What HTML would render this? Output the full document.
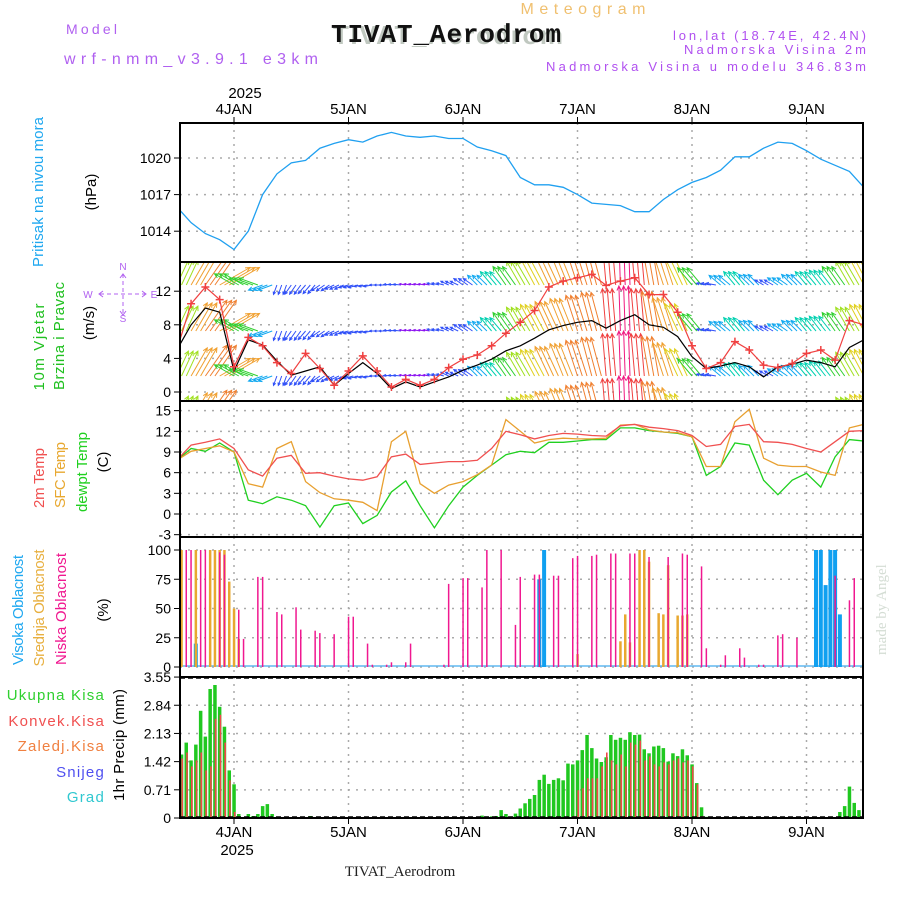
<!DOCTYPE html>
<html><head><meta charset="utf-8"><style>
html,body{margin:0;padding:0;background:#fff;}
svg{display:block;}
text{font-family:"Liberation Sans",sans-serif;}
</style></head><body>
<svg id="chart" width="900" height="900" viewBox="0 0 900 900" xmlns="http://www.w3.org/2000/svg">
<defs>
<clipPath id="c1"><rect x="180" y="123" width="683" height="139"/></clipPath>
<clipPath id="c2"><rect x="181" y="263" width="681" height="137"/></clipPath>
<clipPath id="c3"><rect x="180" y="401" width="683" height="136"/></clipPath>
<clipPath id="c4"><rect x="180" y="537" width="683" height="140"/></clipPath>
<clipPath id="c5"><rect x="180" y="677" width="683" height="141"/></clipPath>
</defs>
<!-- header -->
<text x="583" y="14" fill="#f0c070" font-size="16" text-anchor="middle" textLength="125" lengthAdjust="spacing">Meteogram</text>
<text x="66" y="34" fill="#b060f0" font-size="14" textLength="51" lengthAdjust="spacing">Model</text>
<text x="64" y="64" fill="#b060f0" font-size="16" textLength="254" lengthAdjust="spacing">wrf-nmm_v3.9.1 e3km</text>
<text x="333" y="44" fill="#c0c8c0" font-size="26" font-weight="bold" font-family="Liberation Mono" textLength="230">TIVAT_Aerodrom</text>
<text x="331" y="42" fill="#111" font-size="26" font-weight="bold" font-family="Liberation Mono" textLength="230" style="font-family:'Liberation Mono',monospace">TIVAT_Aerodrom</text>
<text x="673" y="40" fill="#b050f0" font-size="13" textLength="193" lengthAdjust="spacing">lon,lat (18.74E, 42.4N)</text>
<text x="684" y="54" fill="#b050f0" font-size="13" textLength="182" lengthAdjust="spacing">Nadmorska Visina 2m</text>
<text x="546" y="71" fill="#b050f0" font-size="13" textLength="320" lengthAdjust="spacing">Nadmorska Visina u modelu 346.83m</text>
<text x="400" y="876" fill="#222" font-size="15" text-anchor="middle" font-family="Liberation Serif" style="font-family:'Liberation Serif',serif">TIVAT_Aerodrom</text>
<text transform="translate(886,655) rotate(-90)" fill="#d4ddd4" font-size="15" font-family="Liberation Serif" style="font-family:'Liberation Serif',serif">made by Angel</text>

<!-- left labels -->
<g font-size="15">
<text transform="translate(43,192) rotate(-90)" fill="#20a8f0" text-anchor="middle" textLength="150">Pritisak na nivou mora</text>
<text transform="translate(96,192) rotate(-90)" fill="#000" text-anchor="middle">(hPa)</text>
<text transform="translate(44,347) rotate(-90)" fill="#20c020" text-anchor="middle" textLength="87">10m Vjetar</text>
<text transform="translate(64,336) rotate(-90)" fill="#20c020" text-anchor="middle" textLength="108">Brzina i Pravac</text>
<text transform="translate(94,323) rotate(-90)" fill="#000" text-anchor="middle">(m/s)</text>
<text transform="translate(44,478) rotate(-90)" fill="#f05050" text-anchor="middle" textLength="60">2m Temp</text>
<text transform="translate(65,475) rotate(-90)" fill="#e8a830" text-anchor="middle" textLength="66">SFC Temp</text>
<text transform="translate(87,472) rotate(-90)" fill="#20d020" text-anchor="middle" textLength="80">dewpt Temp</text>
<text transform="translate(108,462) rotate(-90)" fill="#000" text-anchor="middle">(C)</text>
<text transform="translate(23,610) rotate(-90)" fill="#20a8f0" text-anchor="middle" textLength="110">Visoka Oblacnost</text>
<text transform="translate(44,608) rotate(-90)" fill="#e8b040" text-anchor="middle" textLength="117">Srednja Oblacnost</text>
<text transform="translate(66,609) rotate(-90)" fill="#f01890" text-anchor="middle" textLength="112">Niska Oblacnost</text>
<text transform="translate(108,610) rotate(-90)" fill="#000" text-anchor="middle">(%)</text>
<text transform="translate(124,745) rotate(-90)" fill="#000" text-anchor="middle" textLength="112">1hr Precip (mm)</text>
</g>
<g font-size="15" text-anchor="end" letter-spacing="1.2">
<text x="105" y="700" fill="#30d030">Ukupna Kisa</text>
<text x="105" y="726" fill="#f05050">Konvek.Kisa</text>
<text x="105" y="751" fill="#f08040">Zaledj.Kisa</text>
<text x="105" y="777" fill="#5050f0">Snijeg</text>
<text x="105" y="802" fill="#30c8d0">Grad</text>
</g>
<!-- compass -->
<g fill="#b060f0" stroke="#b060f0" font-size="10">
<text x="123" y="270" text-anchor="middle" stroke="none">N</text>
<text x="123" y="322" text-anchor="middle" stroke="none">S</text>
<text x="88" y="298" text-anchor="middle" stroke="none">W</text>
<text x="154" y="298" text-anchor="middle" stroke="none">E</text>
<path d="M123 274v42M100 294h45" stroke-dasharray="4,3" fill="none"/>
<path d="M103 291l-4 3 4 3M142 291l4 3-4 3M120 278l3-4 3 4M120 311l3 4 3-4" fill="none"/>
</g>
<g id="plots"></g>
</svg>
<script>
// ===== data (time in hours since 4JAN 00:00) =====
const dayLabels = ["4JAN","5JAN","6JAN","7JAN","8JAN","9JAN"];
const dayHours = [0,24,48,72,96,120];
const h3Start = -12; // 3-hourly series start
const pressure = [1016.0,1014.7,1013.8,1013.3,1012.5,1014.0,1017.0,1018.7,1019.6,1019.8,1020.8,1021.2,1021.5,1021.3,1021.8,1022.1,1021.8,1021.7,1021.8,1021.6,1021.6,1020.9,1020.6,1020.2,1018.4,1017.8,1017.8,1017.6,1017.0,1016.3,1016.2,1016.1,1015.6,1015.6,1016.6,1017.4,1018.0,1018.4,1019.0,1020.1,1020.1,1020.8,1021.3,1021.2,1020.6,1019.9,1019.4,1018.9,1017.6];
const pressureTicks = [1020,1017,1014];
const windSpeed = [5,8,10,9.5,2.5,6.2,5.6,3.7,2.0,2.5,3.0,0.8,2.2,3.5,2.2,0.4,1.2,0.6,1.2,1.8,2.6,3.2,3.9,4.9,5.5,6.4,7.4,7.9,8.3,8.5,7.6,8.5,9.2,8.0,7.7,6.6,4.2,2.8,3.1,3.5,3.0,1.8,3.0,3.3,3.8,3.5,3.0,5.3,6.2];
const windGust = [5,10.5,12.5,11,3,6.5,5.5,3.5,2.2,4.6,2.8,0.8,2.5,4.3,2.5,0.6,1.5,0.8,1.5,2.9,3.9,4.4,5.5,7,8.3,9.7,12.5,13.2,13.6,14,12.7,13.2,13.6,11.6,11.6,9.5,5.5,2.8,3.5,6,5,3.2,2.9,3.4,4.6,5,3.8,8.5,8];
const windDir = [65,60,55,30,150,160,200,250,235,230,215,205,195,190,180,175,170,170,165,155,145,135,130,125,120,118,115,112,108,105,95,92,95,100,108,115,130,170,140,130,135,150,145,135,130,128,125,120,118];
const windVec = [11,13,15,14,9,8,6,4,4.5,4.5,4,4,4,3.5,3,3,2.5,2.5,3,3.5,4.5,5.5,7,9,11,12,13,14,15,16,17,18,17,16,14,12,9,4,6,7,6,4,5,6,7,7.5,9,11,12];
const windTicks = [12,8,4,0];
const temp2m = [7.8,10.0,10.4,10.9,9.5,6.4,5.5,8.1,8.5,5.9,6.0,5.5,5.1,4.9,5.4,8.3,8.7,7.2,7.4,7.6,7.6,7.8,9.5,12.0,11.5,10.9,11.4,11.7,11.6,11.4,11.3,12.8,13.0,12.6,12.4,12.1,11.4,9.8,10.1,12.7,13.0,10.5,10.4,10.1,9.5,9.0,10.5,12.0,12.1];
const tempSfc = [7.8,9.1,9.5,9.9,9.0,4.4,3.9,9.5,10.5,4.7,3.1,2.2,2.0,1.7,0.5,10.5,12.0,4.4,3.0,4.2,4.7,5.7,7.1,13.7,12.0,10.3,10.8,11.0,10.9,10.9,11.0,12.9,13.0,12.2,11.9,11.8,11.2,6.9,6.9,13.4,15.2,8.1,7.1,6.9,6.9,6.1,5.6,12.5,13.0];
const tempDew = [7.8,9.5,9.1,10.3,9.0,2.0,1.5,2.5,2.0,1.2,-1.9,1.2,1.6,-1.4,-0.2,3.2,4.8,1.2,-2.0,1.2,3.9,5.6,7.1,8.6,9.1,8.9,10.4,10.4,10.6,10.8,10.8,12.5,12.5,12.1,11.9,11.7,11.2,5.6,6.9,10.3,10.0,4.9,2.8,4.9,5.9,3.9,8.3,10.8,10.6];
const tempTicks = [15,12,9,6,3,0,-3];
const lowCloudHours = [-10,-9,-7,-6,-3,-2,1,2,5,6,9,10,13,14,17,18,21,24,25,28,29,32,33,36,37,44,45,48,49,52,53,56,59,60,63,64,67,68,71,72,75,76,79,80,83,84,87,91,94,95,98,99,102,103,106,107,110,111,114,115,118,126,129,130];
const lowCloud = [100,100,100,100,98,96,49,24,77,77,47,45,51,32,31,29,28,43,43,20,2,2,4,4,20,2,71,76,76,68,100,100,36,77,79,79,78,78,93,95,95,96,97,97,97,97,94,94,97,96,86,16,2,10,16,8,2,2,27,28,25,78,57,76];
const midCloudHours = [-11,-8,-5,-4,-3,-2,-1,0,1,72,81,82,83,85,86,87,89,90,91,93,94,95];
const midCloud = [100,100,100,100,100,100,73,50,24,11,22,45,21,100,100,90,46,45,87,44,44,45];
const highCloudHours = [-8,64,65,122,123,124,125,126,127];
const highCloud = [20,75,100,100,100,70,100,100,45];
const cloudTicks = [100,75,50,25,0];
const precipStart = -11; // hourly series start
const precipTotal = [1.6,1.9,1.45,1.85,2.7,2.05,3.25,3.35,2.8,2.3,1.2,0.85,0.1,0,0.1,0.05,0.1,0.3,0.35,0.1,0.02,
0,0,0,0,0,0,0.05,0,0,0,0,0,0,0,0,0,0,0,0,0,0,0,0,0,0,0,0,0,0,0,0,0,0,0,0,0,0,0,0,0,0,0,
0.06,0.04,0.04,0.05,0.2,0.1,0.04,0.11,0.24,0.37,0.48,0.58,0.96,1.09,0.86,0.96,1.0,0.95,1.37,1.35,1.45,1.71,2.09,1.76,1.5,1.41,1.53,2.09,1.97,2.02,1.97,2.16,2.09,2.1,1.73,1.63,1.8,1.82,1.76,1.42,1.63,1.56,1.73,1.58,1.35,0.88,0.27,0.03,
0,0,0,0,0,0,0,0,0.02,0,0,0,0,0,0,0,0,0,0,0,0,0.02,0,0,0,0,0,0.15,0.3,0.79,0.38,0.2];
const precipConv = [1.5,1.65,1.3,1.45,1.65,1.2,1.3,2.5,2.6,1.9,0.95,0.15,0,0,0,0,0,0,0,0,0,
0,0,0,0,0,0,0,0,0,0,0,0,0,0,0,0,0,0,0,0,0,0,0,0,0,0,0,0,0,0,0,0,0,0,0,0,0,0,0,0,0,0,
0,0,0,0,0,0,0,0,0,0,0,0,0,0,0,0,0,0,0,0.05,0.7,0.75,1.0,1.0,1.0,1.3,1.65,1.45,1.35,1.6,1.3,1.9,1.85,1.95,1.45,1.55,1.35,1.3,1.4,1.35,1.45,1.5,1.4,1.45,1.3,0.85,0.05,0,
0,0,0,0,0,0,0,0,0,0,0,0,0,0,0,0,0,0,0,0,0,0,0,0,0,0,0,0,0,0,0,0];
const precipTicks = [3.55,2.84,2.13,1.42,0.71,0];

// ===== scales =====
const X = h => 234 + h*114.5/24;
const yP = p => 158 - (p-1020)*12.2;
const yW = v => 392 - v*8.4;
const yT = t => 514 - t*6.89;
const yC = c => 667 - c*1.17;
const yR = r => 818 - r*39.7;
const NS = "http://www.w3.org/2000/svg";
const root = document.getElementById('plots');
function mk(tag, attrs, parent){ const e=document.createElementNS(NS,tag); for(const k in attrs) e.setAttribute(k,attrs[k]); (parent||root).appendChild(e); return e; }
const panels = [[123,262,'c1'],[262,401,'c2'],[401,537,'c3'],[537,677,'c4'],[677,818,'c5']];

// grid
panels.forEach((p,i)=>{
  dayHours.forEach(h=>{
    const g = mk('line',{x1:X(h),x2:X(h),y1:p[0],y2:p[1],stroke:'#aaa','stroke-width':1.5,'stroke-dasharray':'2,5'});
    
    
  });
});
function hgrid(ticks, sc, fmt, name){
  ticks.forEach(t=>{
    const y = sc(t);
    const g = mk('line',{x1:180,x2:863,y1:y,y2:y,stroke:'#aaa','stroke-width':1.5,'stroke-dasharray':'2,6'});
    
    
    mk('line',{x1:174,x2:180,y1:y,y2:y,stroke:'#000','stroke-width':1});
    const tx = mk('text',{x:171,y:y+5,'text-anchor':'end','font-size':14,fill:'#000'});
    tx.textContent = fmt(t);
    
    
  });
}
hgrid(pressureTicks,yP,t=>t,'pressure');
hgrid(windTicks,yW,t=>t,'wind');
hgrid(tempTicks,yT,t=>t,'temp');
hgrid(cloudTicks,yC,t=>t,'cloud');
hgrid(precipTicks,yR,t=>t===0?'0':t.toFixed(2),'precip');

// line helper
function series(arr, sc, color, clip, name, w){
  const pts = arr.map((v,i)=>X(h3Start+3*i).toFixed(1)+','+sc(v).toFixed(1)).join(' ');
  const pl = mk('polyline',{points:pts,fill:'none',stroke:color,'stroke-width':w||1.3,'clip-path':'url(#'+clip+')'});
  
  
  return pl;
}
series(pressure, yP, '#20a0f0', 'c1', 'pressure-line');

// wind arrows
const spdCol = s => s<3?'#8a10f0':s<5?'#3050f8':s<6.5?'#10a8f0':s<8?'#00d0b0':s<10?'#30d030':s<11.5?'#a0e020':s<13?'#e0d020':s<15?'#f0a030':s<16.5?'#f08030':s<17.5?'#f04040':'#f01880';
const rows = [285,331,376,421];
const wg = mk('g',{'clip-path':'url(#c2)'});


windDir.forEach((d,i)=>{
  const s = windVec[i], col = spdCol(s), L = s*2.5, a = d*Math.PI/180;
  for(let k=0;k<3;k++){
    const x0 = X(h3Start+3*i+k);
    rows.forEach(y0=>{
      const x1 = x0 + L*Math.cos(a), y1 = y0 - L*Math.sin(a);
      const ah = Math.min(5, L*0.3);
      const b1 = a+Math.PI-0.45, b2 = a+Math.PI+0.45;
      const p = mk('path',{d:`M${x0.toFixed(1)} ${y0}L${x1.toFixed(1)} ${y1.toFixed(1)}M${(x1+ah*Math.cos(b1)).toFixed(1)} ${(y1-ah*Math.sin(b1)).toFixed(1)}L${x1.toFixed(1)} ${y1.toFixed(1)}L${(x1+ah*Math.cos(b2)).toFixed(1)} ${(y1-ah*Math.sin(b2)).toFixed(1)}`,stroke:col,'stroke-width':1.0,fill:'none'},wg);
      
      
    });
  }
});
series(windSpeed, yW, '#000', 'c2', 'wind-speed-line', 1.2);
series(windGust, yW, '#f04040', 'c2', 'wind-gust-line', 1.2);
windGust.forEach((v,i)=>{
  const x=X(h3Start+3*i), y=yW(v);
  const c = mk('path',{d:`M${x-4} ${y}h8M${x} ${y-4}v8`,stroke:'#f04040','stroke-width':1.5,'clip-path':'url(#c2)'});
  
  
});

// temperatures
series(tempDew, yT, '#20d020', 'c3', 'dewpoint-line');
series(tempSfc, yT, '#e8a030', 'c3', 'sfc-temp-line');
series(temp2m, yT, '#f05050', 'c3', 'temp-2m-line');

// clouds
mk('line',{x1:180,x2:863,y1:666,y2:666,stroke:'#60b8f0','stroke-width':1.5});
function bars(hours, vals, sc, color, w, name, clip){
  vals.forEach((v,i)=>{
    if(v<=0) return;
    const x = X(hours[i]);
    const r = mk('rect',{x:(x-w/2).toFixed(1),y:sc(v).toFixed(1),width:w,height:(sc(0)-sc(v)).toFixed(1),fill:color,'clip-path':'url(#'+clip+')'});
    
    
  });
}
bars(highCloudHours, highCloud, yC, '#10a0f0', 4, 'high-cloud-bar', 'c4');
bars(midCloudHours, midCloud, yC, '#e8a830', 2.5, 'mid-cloud-bar', 'c4');
bars(lowCloudHours, lowCloud, yC, '#f01890', 1.5, 'low-cloud-bar', 'c4');

// precipitation
const pHours = precipTotal.map((v,i)=>precipStart+i);
bars(pHours, precipTotal, yR, '#20c820', 3.5, 'total-precip-bar', 'c5');
bars(pHours.map(h=>h+0.15), precipConv, yR, '#f04848', 1.6, 'convective-precip-bar', 'c5');
mk('line',{x1:180,x2:863,y1:678,y2:678,stroke:'#000','stroke-width':1.5,'stroke-dasharray':'5,3'});
mk('line',{x1:180,x2:863,y1:817,y2:817,stroke:'#000','stroke-width':1.5,'stroke-dasharray':'5,3'});

// frames & day ticks
panels.forEach(p=>{
  const r = mk('rect',{x:180,y:p[0],width:683,height:p[1]-p[0],fill:'none',stroke:'#000','stroke-width':2});
  
  
});
dayLabels.forEach((d,i)=>{
  const x = X(dayHours[i]);
  mk('line',{x1:x,x2:x,y1:117,y2:123,stroke:'#000'});
  mk('line',{x1:x,x2:x,y1:818,y2:824,stroke:'#000'});
  const t1 = mk('text',{x:x,y:114,'text-anchor':'middle','font-size':15,fill:'#000'});
  t1.textContent = d;
  
  
  const t2 = mk('text',{x:x,y:837,'text-anchor':'middle','font-size':15,fill:'#000'});
  t2.textContent = d;
  
  
});
const y1 = mk('text',{x:X(0)+11,y:98,'text-anchor':'middle','font-size':15,fill:'#000'});
y1.textContent='2025';


const y2 = mk('text',{x:X(0)+3,y:855,'text-anchor':'middle','font-size':15,fill:'#000'});
y2.textContent='2025';


</script>
</body></html>
